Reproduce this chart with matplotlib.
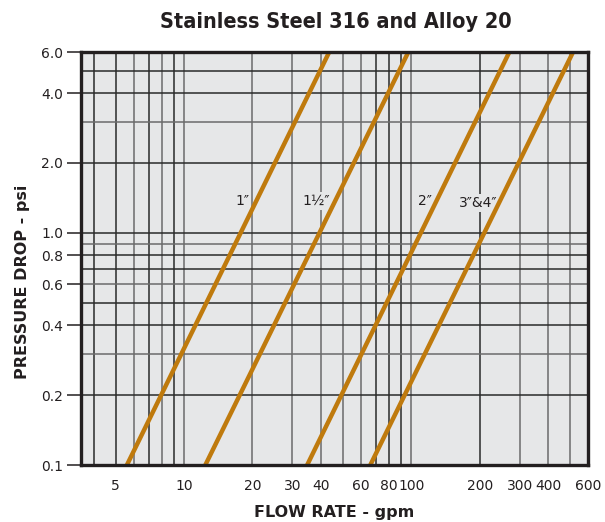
import matplotlib.pyplot as plt
from matplotlib.ticker import FixedLocator, NullLocator

# pipe sizes and the ends of each line
sizes = ['1\u2033', '1\u00bd\u2033', '2\u2033', '3\u2033&4\u2033']
flow_low = [5.6, 12.4, 34.8, 66.0]      # gpm where the line meets 0.1 psi
flow_high = [43.5, 97.0, 270.0, 515.0]  # gpm where the line meets 6.0 psi
press_ends = [0.1, 6.0]

# where the size labels sit
label_flow = [18.0, 38.0, 115.0, 197.0]
label_press = [1.37, 1.37, 1.37, 1.35]

x_ticks = [5, 10, 20, 30, 40, 60, 80, 100, 200, 300, 400, 600]
y_ticks = [0.1, 0.2, 0.4, 0.6, 0.8, 1.0, 2.0, 4.0, 6.0]
x_grid = [4, 5, 6, 7, 8, 9, 10, 20, 30, 40, 50, 60, 70, 80, 90, 100, 200, 300, 400, 500]
y_grid = [0.2, 0.3, 0.4, 0.5, 0.6, 0.7, 0.8, 0.9, 1.0, 2.0, 3.0, 4.0, 5.0]

fig = plt.figure(figsize=(6.05, 5.22), dpi=100)
ax = fig.add_axes([0.134, 0.109, 0.838, 0.791])
ax.set_facecolor('#e6e7e8')
ax.set_xscale('log')
ax.set_yscale('log')
ax.set_xlim(3.52, 600)
ax.set_ylim(0.1, 6.0)

dark_x = [4, 5, 7, 9, 70, 80, 90, 200]
for x in x_grid:
    c = '#2a2a2a' if x in dark_x else '#6b6b6b'
    ax.axvline(x, color=c, lw=1.1, zorder=1)
dark_y = [0.2, 0.4, 0.5, 0.7, 0.8, 1.0, 2.0, 4.0, 5.0]
for y in y_grid:
    c = '#2a2a2a' if y in dark_y else '#6b6b6b'
    ax.axhline(y, color=c, lw=1.1, zorder=1)

for i in range(len(sizes)):
    ax.plot([flow_low[i], flow_high[i]], press_ends, color='#bf7a0d', lw=3.2,
            solid_capstyle='butt', zorder=3)
    ax.text(label_flow[i], label_press[i], sizes[i], fontsize=10, color='#231f20',
            ha='center', va='center', zorder=2,
            bbox=dict(facecolor='#e6e7e8', edgecolor='none', pad=1.5))

ax.xaxis.set_major_locator(FixedLocator(x_ticks))
ax.xaxis.set_minor_locator(NullLocator())
ax.set_xticklabels([str(v) for v in x_ticks])
ax.yaxis.set_major_locator(FixedLocator(y_ticks))
ax.yaxis.set_minor_locator(NullLocator())
ax.set_yticklabels(['%.1f' % v for v in y_ticks])
ax.tick_params(axis='x', length=0, pad=10, labelsize=10, labelcolor='#231f20')
ax.tick_params(axis='y', length=10, width=1.1, color='#231f20', pad=3,
               labelsize=10, labelcolor='#231f20')

for s in ax.spines.values():
    s.set_linewidth(2.4)
    s.set_color('#231f20')
    s.set_zorder(5)

ax.set_xlabel('FLOW RATE - gpm', fontsize=11.5, fontweight='bold', color='#231f20', labelpad=9)
ax.set_ylabel('PRESSURE DROP - psi', fontsize=11.5, fontweight='bold', color='#231f20')
ax.yaxis.set_label_coords(-0.10, 0.443)
fig.text(0.555, 0.957, 'Stainless Steel 316 and Alloy 20', ha='center', va='center',
         fontsize=15.5, fontweight='bold', fontstretch='condensed', color='#231f20',
         family=['DejaVu Sans'])

fig.savefig('out.png', dpi=100)
